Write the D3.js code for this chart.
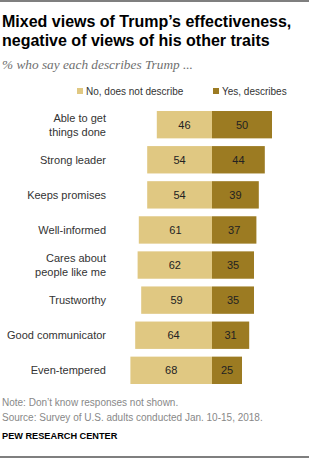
<!DOCTYPE html>
<html><head><meta charset="utf-8">
<script src="https://cdn.jsdelivr.net/npm/d3@7"></script>
<style>body{margin:0;background:#fff}svg{display:block}</style>
</head><body>
<script>
const categories = [["Able to get","things done"],["Strong leader"],["Keeps promises"],["Well-informed"],["Cares about","people like me"],["Trustworthy"],["Good communicator"],["Even-tempered"]];
const noValues = [46,54,54,61,62,59,64,68];
const yesValues = [50,44,39,37,35,35,31,25];
const seriesNames = ["No, does not describe","Yes, describes"];
const colors = ["#E0C882","#9C7B22"];

const W=309,H=459;
const svg=d3.select("body").append("svg").attr("width",W).attr("height",H);
const font="'Liberation Sans', Arial, sans-serif";

svg.append("line").attr("x1",0).attr("x2",W).attr("y1",1).attr("y2",1).attr("stroke","#000").attr("stroke-width",1.2);
svg.append("line").attr("x1",0).attr("x2",W).attr("y1",457).attr("y2",457).attr("stroke","#000").attr("stroke-width",1.2);

const title=svg.append("text").attr("font-family",font).attr("font-weight","bold").attr("font-size",16).attr("fill","#000");
title.append("tspan").attr("x",2).attr("y",27).text("Mixed views of Trump\u2019s effectiveness,");
title.append("tspan").attr("x",2).attr("y",46).text("negative of views of his other traits");

svg.append("text").attr("x",2).attr("y",69).attr("font-family","'Liberation Serif', 'DejaVu Serif', serif").attr("font-style","italic").attr("font-size",13.3).attr("fill","#6f6f6f").text("% who say each describes Trump ...");

// legend
const legX=[77,213];
seriesNames.forEach((n,i)=>{
  svg.append("rect").attr("x",legX[i]).attr("y",88).attr("width",6).attr("height",6).attr("fill",colors[i]);
  svg.append("text").attr("x",legX[i]+9).attr("y",95).attr("font-family",font).attr("font-size",10).attr("fill","#333").text(n);
});

const x=d3.scaleLinear().domain([0,100]).range([0,120]);
const cx=212;
const y=d3.scaleBand().domain(d3.range(categories.length)).range([111,384]).paddingInner(0.22).paddingOuter(0);
const g=svg.append("g");
categories.forEach((c,i)=>{
  const yy=y(i), h=y.bandwidth();
  g.append("rect").attr("x",cx-x(noValues[i])).attr("y",yy).attr("width",x(noValues[i])).attr("height",h).attr("fill",colors[0]);
  g.append("rect").attr("x",cx).attr("y",yy).attr("width",x(yesValues[i])).attr("height",h).attr("fill",colors[1]);
  g.append("text").attr("x",cx-x(noValues[i])/2).attr("y",yy+h/2+4).attr("text-anchor","middle").attr("font-family",font).attr("font-size",11).attr("fill","#222").text(noValues[i]);
  g.append("text").attr("x",cx+x(yesValues[i])/2).attr("y",yy+h/2+4).attr("text-anchor","middle").attr("font-family",font).attr("font-size",11).attr("fill","#222").text(yesValues[i]);
  const t=g.append("text").attr("text-anchor","end").attr("font-family",font).attr("font-size",11).attr("fill","#333");
  const n=c.length;
  c.forEach((line,j)=>{
    t.append("tspan").attr("x",106).attr("y",yy+h/2+4+(j-(n-1)/2)*14).text(line);
  });
});

svg.append("text").attr("x",2).attr("y",406).attr("font-family",font).attr("font-size",10).attr("fill","#888").text("Note: Don\u2019t know responses not shown.");
svg.append("text").attr("x",2).attr("y",421).attr("font-family",font).attr("font-size",10).attr("fill","#888").text("Source: Survey of U.S. adults conducted Jan. 10-15, 2018.");
svg.append("text").attr("x",2).attr("y",439).attr("font-family",font).attr("font-weight","bold").attr("font-size",9.2).attr("fill","#000").text("PEW RESEARCH CENTER");
</script>
</body></html>
